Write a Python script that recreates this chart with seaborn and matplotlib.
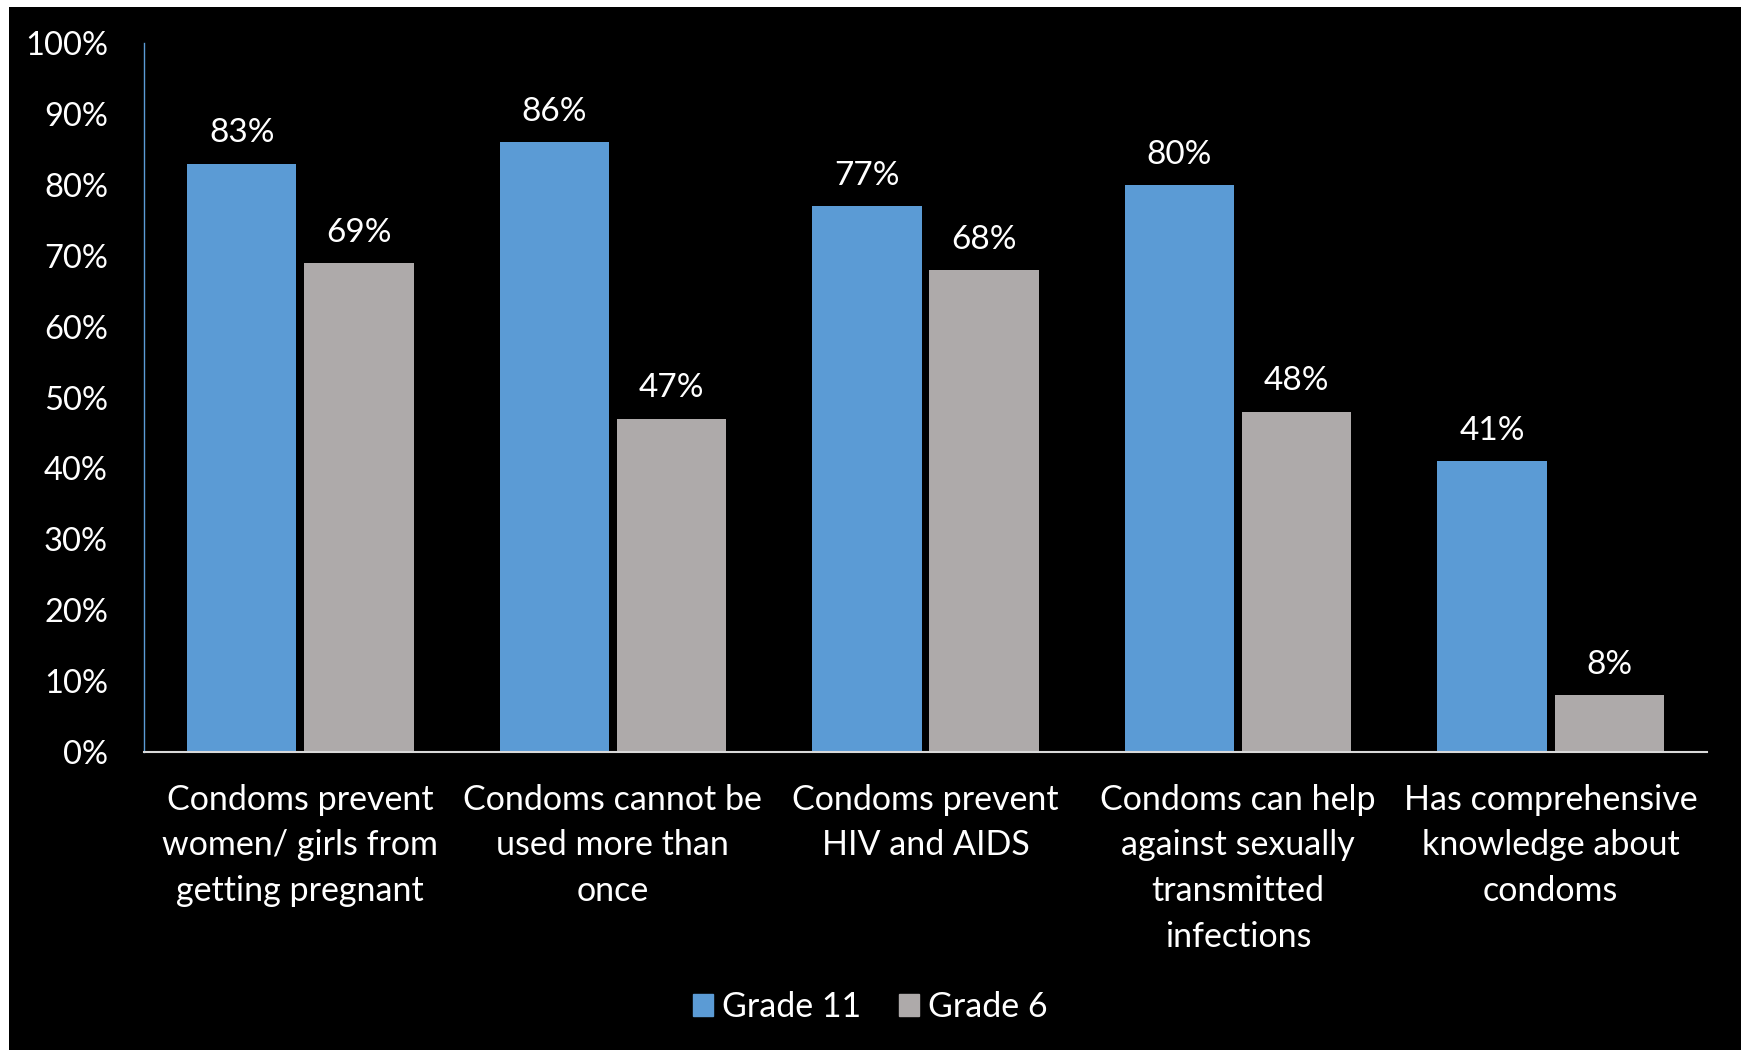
import pandas as pd
import matplotlib
matplotlib.use('Agg')
import matplotlib.pyplot as plt
import matplotlib.patches as mpatches
import seaborn as sns

# data
categories = ["Condoms prevent\nwomen/ girls from\ngetting pregnant",
              "Condoms cannot be\nused more than\nonce",
              "Condoms prevent\nHIV and AIDS",
              "Condoms can help\nagainst sexually\ntransmitted\ninfections",
              "Has comprehensive\nknowledge about\ncondoms"]
grade11 = [83, 86, 77, 80, 41]
grade6 = [69, 47, 68, 48, 8]
series_names = ["Grade 11", "Grade 6"]
yticks = [0, 10, 20, 30, 40, 50, 60, 70, 80, 90, 100]

blue = '#5B9BD5'
grey = '#AEAAAA'

df = pd.DataFrame({
    'category': categories * 2,
    'value': grade11 + grade6,
    'grade': [series_names[0]] * len(categories) + [series_names[1]] * len(categories),
})

sns.set_style('dark')
plt.rcParams['font.family'] = ['Lato', 'DejaVu Sans']

W, H = 1741, 1050
fig = plt.figure(figsize=(W / 100, H / 100), dpi=100)
fig.patch.set_facecolor('black')
# thin white strips at the left and top edge
fig.patches.append(mpatches.Rectangle((0, 0), 9 / W, 1, transform=fig.transFigure,
                                      facecolor='white', edgecolor='none'))
fig.patches.append(mpatches.Rectangle((0, 1 - 7 / H), 1, 7 / H, transform=fig.transFigure,
                                      facecolor='white', edgecolor='none'))
ax = fig.add_axes([144 / W, 1 - 752 / H, (1707 - 144) / W, (752 - 43) / H])
ax.set_facecolor('black')

sns.barplot(data=df, x='category', y='value', hue='grade', palette=[blue, grey],
            saturation=1, width=0.75, gap=0.068, linewidth=0, ax=ax, legend=False)

for cont in ax.containers:
    ax.bar_label(cont, fmt='%d%%', padding=11, color='white', fontsize=24)

ax.set_ylim(0, 100)
ax.set_xlim(-0.5, len(categories) - 0.5)
ax.set_yticks(yticks)
ax.set_yticklabels([f'{t}%' for t in yticks])
ax.set_xlabel('')
ax.set_ylabel('')
ax.grid(False)
ax.tick_params(axis='y', length=0, pad=26, labelsize=23.5, colors='white')
ax.tick_params(axis='x', length=0, pad=23, labelsize=24.5, colors='white')
for lab in ax.get_xticklabels():
    lab.set_linespacing(1.52)

for side in ['top', 'right']:
    ax.spines[side].set_visible(False)
ax.spines['left'].set_color(blue)
ax.spines['left'].set_linewidth(1)
ax.spines['bottom'].set_color('#D9D9D9')
ax.spines['bottom'].set_linewidth(1.5)

handles = [mpatches.Patch(color=blue, label=series_names[0]),
           mpatches.Patch(color=grey, label=series_names[1])]
fig.legend(handles=handles, loc='center', bbox_to_anchor=(0.5, 1 - 1007 / H), ncol=2,
           frameon=False, fontsize=24.5, labelcolor='white', handlelength=0.58, handleheight=0.58,
           handletextpad=0.28, columnspacing=1.1)

fig.savefig('out.png', dpi=100, facecolor=fig.get_facecolor())
